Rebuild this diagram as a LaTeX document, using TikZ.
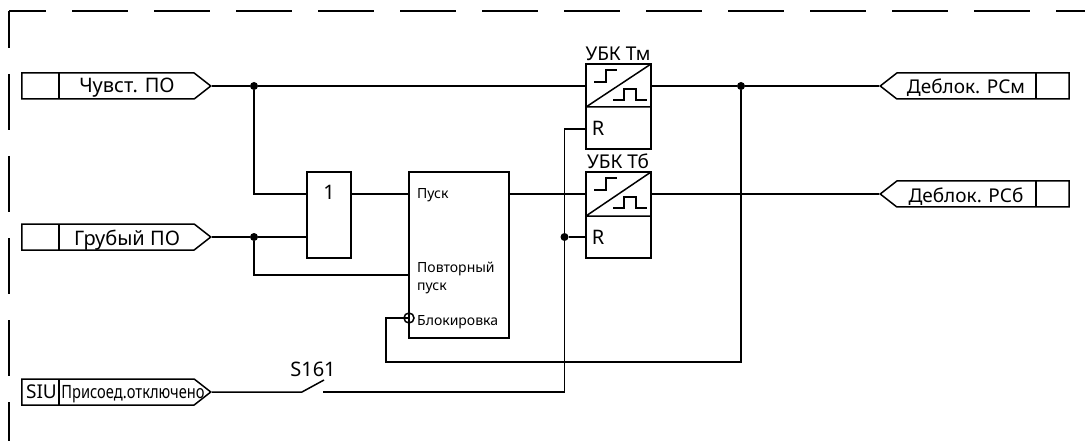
\documentclass[tikz,border=0pt]{standalone}
\usepackage{fontspec}
\setmainfont{Noto Sans}
\newfontfamily\narrowfont[FakeStretch=0.8]{Noto Sans}
\usepackage{tikz}
\usetikzlibrary{calc}
\usetikzlibrary{shapes.symbols}
\usetikzlibrary{positioning}
\tikzset{
	wire/.style={line width=1.5pt},
	portin/.style={draw,line width=1.5pt,shape=signal,signal from=nowhere,signal to=east,signal pointer angle=76,minimum width=189pt,minimum height=26pt,inner sep=0pt,anchor=east},
	portout/.style={portin,signal to=west,anchor=west},
	blockbox/.style={draw,line width=1.5pt,rectangle,inner sep=0pt},
	joint/.style={circle,fill=black,inner sep=0pt,minimum size=8pt},
	bigtext/.style={anchor=base,font=\fontsize{20}{22}\selectfont,inner sep=0pt},
	midtext/.style={anchor=base,font=\fontsize{19}{21}\selectfont,inner sep=0pt},
	smalltext/.style={anchor=base west,font=\fontsize{14}{16}\selectfont,inner sep=0pt},
}
\begin{document}
\begin{tikzpicture}[x=1pt,y=-1pt]
	\useasboundingbox (0,0) rectangle (1085,441);
	% frame
	\draw[wire,dash pattern=on 56pt off 26pt,dash phase=19pt] (9,11) -- (1085,11);
	\draw[wire,dash pattern=on 56pt off 26pt,dash phase=19pt] (9,11) -- (9,441);
	% ports
	\node[portin] (chuvst) at (212,86) {};
	\node[portin] (grub) at (212,237) {};
	\node[portin] (siu) at (212,392) {};
	\node[portout] (rsm) at (879,86) {};
	\node[portout] (rsb) at (879,194) {};
	\draw[wire] (59,73) -- (59,99) (59,224) -- (59,250) (59,379) -- (59,405);
	\draw[wire] (1036,73) -- (1036,99) (1036,181) -- (1036,207);
	\node[bigtext] (chuvsttxt) at (127,93) {Чувст. ПО};
	\node[bigtext] (grubtxt) at (127,245) {Грубый ПО};
	\node[midtext] (siutxt) at (41.5,398) {SIU};
	\node[midtext,font=\fontsize{18.3}{20}\selectfont] (prisoed) at (133,398) {\narrowfont Присоед.отключено};
	\node[midtext] (rsmtxt) at (966,94) {Деблок. РСм};
	\node[midtext] (rsbtxt) at (966,202) {Деблок. РСб};
	% blocks
	\node[blockbox,minimum width=44pt,minimum height=86pt] (or) at (329,215) {};
	\node[bigtext] (ortxt) at (329,200) {1};
	\node[blockbox,minimum width=100pt,minimum height=166pt] (start) at (459,255) {};
	\node[smalltext] (pusk) at (417,198) {Пуск};
	\node[smalltext] (povt) at (417,272) {Повторный};
	\node[smalltext] (povtb) at (417,290) {пуск};
	\node[smalltext] (blok) at (417,325) {Блокировка};
	\node[draw,line width=1.5pt,circle,inner sep=0pt,minimum size=10pt] (inv) at (409,318) {};
	% delay blocks
	\node[blockbox,minimum width=65pt,minimum height=85pt] (tm) at (618.5,106.5) {};
	\node[blockbox,minimum width=65pt,minimum height=86pt] (tb) at (618.5,215) {};
	\draw[wire] (586,107) -- (651,107) (586,107) -- (651,64);
	\draw[wire] (586,216) -- (651,216) (586,216) -- (651,172);
	\draw[line width=1.1pt] (594,82) -| (606,70) -- (617,70);
	\draw[line width=1.1pt] (613,100) -| (624,89) -| (636,100) -- (647,100);
	\draw[line width=1.1pt] (594,190) -| (606,178) -- (617,178);
	\draw[line width=1.1pt] (613,208) -| (624,197) -| (636,208) -- (647,208);
	\node[midtext] (tmtxt) at (618,61) {УБК Тм};
	\node[midtext] (tbtxt) at (618,168) {УБК Тб};
	\node[bigtext] (rtm) at (598,136) {R};
	\node[bigtext] (rtb) at (598,244) {R};
	% joints
	\node[joint] (ja) at (254,86) {};
	\node[joint] (jb) at (254,237) {};
	\node[joint] (jc) at (741,86) {};
	\node[joint] (jd) at (564.5,237) {};
	% switch
	\coordinate (swa) at (302,392);
	\coordinate (swb) at (324,380);
	\coordinate (swc) at (323,392);
	\node[bigtext] (swtxt) at (313,376) {S161};
	% wires
	\draw[wire] (chuvst.east) -- (ja) -- (tm.west |- ja);
	\draw[wire] (tm.east |- jc) -- (jc) -- (rsm.west);
	\draw[wire] (ja) |- (or.west |- 0,194);
	\draw[wire] (grub.east) -- (jb) -- (or.west |- jb);
	\draw[wire] (jb) |- (start.west |- 0,275);
	\draw[wire] (or.east |- 0,194) -- (start.west |- 0,194);
	\draw[wire] (start.east |- 0,194) -- (tb.west |- 0,194);
	\draw[wire] (tb.east |- 0,194) -- (rsb.west);
	\draw[wire] (inv.center) -- (386,318) |- (741,362) -- (jc);
	\draw[wire] (siu.east) -- (swa) -- (swb);
	\draw[wire] (swc) -| (jd);
	\draw[wire] (jd) |- (tm.west |- 0,129);
	\draw[wire] (jd) -- (tb.west |- jd);
\end{tikzpicture}
\end{document}
